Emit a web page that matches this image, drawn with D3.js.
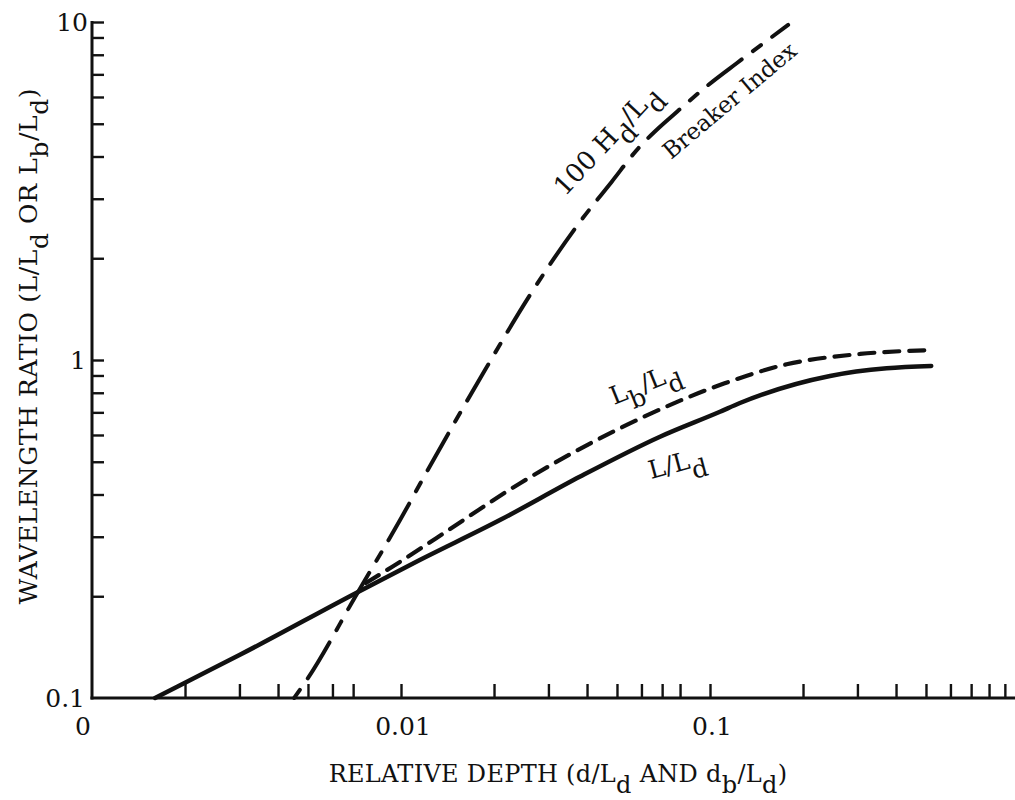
<!DOCTYPE html>
<html>
<head>
<meta charset="utf-8">
<script src="https://cdn.jsdelivr.net/npm/d3@7"></script>
<style>
  html, body { margin: 0; padding: 0; background: #fff; }
  svg { display: block; }
  text { font-family: "DejaVu Serif", "Liberation Serif", serif; fill: #111; }
</style>
</head>
<body>
<svg id="chart" width="1015" height="800"></svg>
<script>
// Relative depth (d/Ld) and the wavelength ratio L/Ld
const relDepthL = [0.0016, 0.002, 0.003, 0.00726, 0.0115, 0.0209, 0.038, 0.0689, 0.1077, 0.125, 0.2446, 0.373, 0.52];
const ratioL    = [0.1, 0.111, 0.134, 0.206, 0.256, 0.336, 0.452, 0.593, 0.703, 0.746, 0.897, 0.945, 0.96];

// Breaking depth (db/Ld) and the wavelength ratio Lb/Ld
const relDepthLb = [0.0077, 0.0094, 0.013, 0.0243, 0.0511, 0.1115, 0.177, 0.306, 0.52];
const ratioLb    = [0.219, 0.245, 0.297, 0.432, 0.628, 0.853, 0.971, 1.042, 1.07];

// Breaker index, plotted as 100 Hd/Ld
const relDepthH = [0.00451, 0.00495, 0.00726, 0.00993, 0.0118, 0.0187, 0.02615, 0.038, 0.0481, 0.0586, 0.0689, 0.0761, 0.0987, 0.122, 0.179];
const breakerH  = [0.1, 0.113, 0.206, 0.336, 0.447, 0.934, 1.557, 2.567, 3.37, 4.23, 4.90, 5.31, 6.51, 7.55, 9.8];

// Axis ticks and labels
const xTickValues  = [0.002, 0.003, 0.004, 0.005, 0.006, 0.007, 0.01, 0.02, 0.03, 0.04, 0.05, 0.06, 0.07, 0.08, 0.1, 0.2, 0.3, 0.4, 0.5, 0.6, 0.7, 0.8, 0.9];
const xLabelValues = [0.001, 0.01, 0.1];
const xLabelTexts  = ["0", "0.01", "0.1"];
const yTickValues  = [0.2, 0.3, 0.4, 0.5, 0.6, 0.7, 0.8, 0.9, 1, 2, 3, 4, 5, 6, 7, 8, 9, 10];
const yLabelValues = [0.1, 1, 10];
const yLabelTexts  = ["0.1", "1", "10"];

const svg = d3.select("#chart");

const x = d3.scaleLog().domain([0.001, 1]).range([92, 1019]);
const y = d3.scaleLog().domain([0.1, 10]).range([698, 22]);

// Axes: ticks point into the plot
const xAxis = d3.axisBottom(x).tickValues(xTickValues).tickSize(-14).tickFormat("").tickSizeOuter(0);
const yAxis = d3.axisLeft(y).tickValues(yTickValues).tickSize(-12).tickFormat("").tickSizeOuter(0);

const gx = svg.append("g").attr("transform", `translate(0,${y(0.1)})`).call(xAxis);
const gy = svg.append("g").attr("transform", `translate(${x(0.001)},0)`).call(yAxis);
[gx, gy].forEach(g => {
  g.select(".domain").attr("stroke", "#111").attr("stroke-width", 3);
  g.selectAll(".tick line").attr("stroke", "#111").attr("stroke-width", 2.4);
});
gx.select(".domain").attr("d", `M${x(0.001) - 1.5},0H1015`);
gy.select(".domain").attr("d", `M0,${y(10) - 1}V${y(0.1) + 1.5}`);

// Tick labels
svg.append("g").selectAll("text").data(xLabelValues).join("text")
  .attr("x", (d, i) => i === 0 ? x(d) - 9 : x(d) + 2)
  .attr("y", 735)
  .attr("text-anchor", "middle")
  .attr("font-size", 25)
  .text((d, i) => xLabelTexts[i]);

svg.append("g").selectAll("text").data(yLabelValues).join("text")
  .attr("x", (d, i) => i === 2 ? 88 : (i === 1 ? 86 : 85))
  .attr("y", d => y(d) + 9)
  .attr("text-anchor", "end")
  .attr("font-size", 25)
  .text((d, i) => yLabelTexts[i]);

// Curves
const line = d3.line().x(d => x(d[0])).y(d => y(d[1])).curve(d3.curveMonotoneX);

svg.append("path")
  .datum(d3.zip(relDepthL, ratioL))
  .attr("d", line)
  .attr("fill", "none").attr("stroke", "#111").attr("stroke-width", 4.5)
  .attr("stroke-linecap", "round");

svg.append("path")
  .datum(d3.zip(relDepthLb, ratioLb))
  .attr("d", line)
  .attr("fill", "none").attr("stroke", "#111").attr("stroke-width", 4.2)
  .attr("stroke-dasharray", "15 10").attr("stroke-linecap", "round");

svg.append("path")
  .datum(d3.zip(relDepthH, breakerH))
  .attr("d", line)
  .attr("fill", "none").attr("stroke", "#111").attr("stroke-width", 4)
  .attr("stroke-dasharray", "10 14 42 14").attr("stroke-linecap", "round");

// Text with subscripts: parts are [text, isSubscript]
function richText(g, parts, size, spacing) {
  const t = g.append("text").attr("font-size", size);
  if (spacing) t.attr("letter-spacing", spacing);
  let prevSub = false;
  parts.forEach(([s, sub]) => {
    const ts = t.append("tspan").text(s);
    if (sub && !prevSub) ts.attr("dy", size * 0.45);
    if (!sub && prevSub) ts.attr("dy", -size * 0.45);
    prevSub = sub;
  });
  return t;
}

// Curve labels
const lblH = svg.append("g").attr("transform", "translate(565,197) rotate(-47)");
richText(lblH, [["100 H", false], ["d", true], ["/L", false], ["d", true]], 26);

const lblB = svg.append("g").attr("transform", "translate(671,160) rotate(-40)");
richText(lblB, [["Breaker Index", false]], 23);

const lblLb = svg.append("g").attr("transform", "translate(614,405) rotate(-22)");
richText(lblLb, [["L", false], ["b", true], ["/L", false], ["d", true]], 25);

const lblL = svg.append("g").attr("transform", "translate(651,479) rotate(-15)");
richText(lblL, [["L/L", false], ["d", true]], 25);

// Axis titles
const xt = svg.append("g").attr("transform", "translate(558,782)");
richText(xt, [["RELATIVE DEPTH (d/L", false], ["d", true], [" AND d", false], ["b", true], ["/L", false], ["d", true], [")", false]], 24, 0.3)
  .attr("text-anchor", "middle");

const yt = svg.append("g").attr("transform", "translate(37,346) rotate(-90)");
richText(yt, [["WAVELENGTH RATIO (L/L", false], ["d", true], [" OR L", false], ["b", true], ["/L", false], ["d", true], [")", false]], 25, 0.6)
  .attr("text-anchor", "middle");
</script>
</body>
</html>
